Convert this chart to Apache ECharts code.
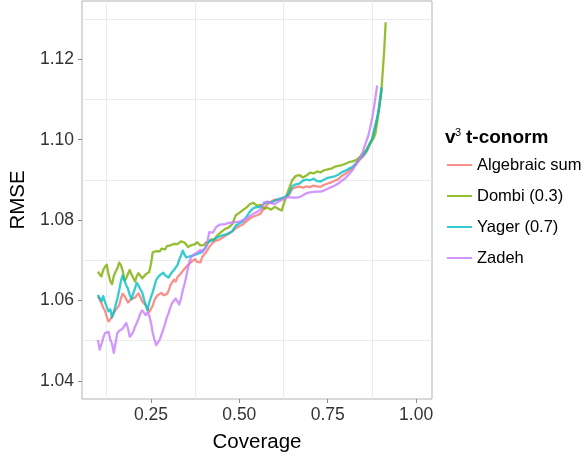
<!DOCTYPE html>
<html>
<head>
<meta charset="utf-8">
<script src="https://cdn.jsdelivr.net/npm/echarts@6/dist/echarts.min.js"></script>
<style>
  html, body { margin: 0; padding: 0; background: #ffffff; }
  #chart { width: 587px; height: 459px; }
</style>
</head>
<body>
<div id="chart"></div>
<script>
// Coverage values at which RMSE was evaluated
const coverage = [
  0.100, 0.105, 0.110, 0.115, 0.120, 0.125, 0.130, 0.135, 0.140, 0.145,
  0.150, 0.155, 0.160, 0.165, 0.170, 0.175, 0.180, 0.185, 0.190, 0.195,
  0.200, 0.205, 0.210, 0.215, 0.220, 0.225, 0.230, 0.235, 0.240, 0.245,
  0.250, 0.255, 0.260, 0.265, 0.270, 0.275, 0.280, 0.285, 0.290, 0.295,
  0.300, 0.305, 0.310, 0.315, 0.320, 0.325, 0.330, 0.335, 0.340, 0.345,
  0.350, 0.355, 0.360, 0.365, 0.370, 0.375, 0.380, 0.385, 0.390, 0.395,
  0.400, 0.405, 0.410, 0.415, 0.420, 0.425, 0.430, 0.435, 0.440, 0.445,
  0.450,
  0.46, 0.47, 0.48, 0.49, 0.50, 0.51, 0.52, 0.53, 0.54,
  0.55, 0.56, 0.57, 0.58, 0.59, 0.60, 0.61, 0.62, 0.63, 0.64,
  0.65, 0.66, 0.67, 0.68, 0.69, 0.70, 0.71, 0.72, 0.73, 0.74,
  0.75, 0.76, 0.77, 0.78, 0.79, 0.80, 0.81, 0.82, 0.83, 0.84,
  0.845, 0.85, 0.855, 0.86, 0.865, 0.87, 0.875, 0.88, 0.885, 0.89,
  0.895, 0.90, 0.903, 0.91, 0.914
];

// RMSE per t-conorm (null = no estimate at that coverage)
const algebraicSum = [
  1.0610, 1.0602, 1.0594, 1.0582, 1.0575, 1.0560, 1.0548, 1.0553, 1.0561, 1.0569,
  1.0576, 1.0579, 1.0588, 1.0605, 1.0617, 1.0612, 1.0604, 1.0595, 1.0599, 1.0604,
  1.0601, 1.0607, 1.0613, 1.0618, 1.0609, 1.0598, 1.0594, 1.0588, 1.0580, 1.0571,
  1.0574, 1.0587, 1.0601, 1.0609, 1.0614, 1.0617, 1.0619, 1.0613, 1.0611, 1.0616,
  1.0624, 1.0638, 1.0641, 1.0652, 1.0647, 1.0658, 1.0656, 1.0668, 1.0669, 1.0679,
  1.0677, 1.0688, 1.0684, 1.0697, 1.0694, 1.0703, 1.0696, 1.0699, 1.0695, 1.0708,
  1.0710, 1.0719, 1.0720, 1.0733, 1.0735, 1.0744, 1.0741, 1.0749, 1.0746, 1.0752,
  1.0755,
  1.0761, 1.0766, 1.0772, 1.0780, 1.0785, 1.0789, 1.0797, 1.0804, 1.0809,
  1.0812, 1.0816, 1.0830, 1.0840, 1.0846, 1.0851, 1.0850, 1.0853, 1.0856, 1.0862,
  1.0878, 1.0882, 1.0883, 1.0881, 1.0884, 1.0882, 1.0886, 1.0884, 1.0883, 1.0888,
  1.0891, 1.0894, 1.0898, 1.0902, 1.0910, 1.0915, 1.0922, 1.0929, 1.0938, 1.0950,
  1.0954, 1.0958, 1.0962, 1.0970, 1.0979, 1.0989, 1.0998, 1.1015, 1.1033, 1.1052,
  1.1076, 1.1105, 1.1126, null, null
];

const dombi = [
  1.0672, 1.0665, 1.0660, 1.0676, 1.0684, 1.0689, 1.0666, 1.0648, 1.0641, 1.0661,
  1.0672, 1.0680, 1.0694, 1.0688, 1.0674, 1.0650, 1.0655, 1.0666, 1.0676, 1.0665,
  1.0656, 1.0647, 1.0661, 1.0668, 1.0671, 1.0655, 1.0658, 1.0665, 1.0667, 1.0671,
  1.0690, 1.0720, 1.0716, 1.0723, 1.0719, 1.0722, 1.0729, 1.0733, 1.0727, 1.0735,
  1.0731, 1.0737, 1.0734, 1.0741, 1.0737, 1.0740, 1.0743, 1.0747, 1.0751, 1.0744,
  1.0739, 1.0733, 1.0730, 1.0738, 1.0742, 1.0740, 1.0745, 1.0741, 1.0737, 1.0740,
  1.0738, 1.0744, 1.0748, 1.0746, 1.0752, 1.0755, 1.0752, 1.0759, 1.0763, 1.0768,
  1.0772,
  1.0778, 1.0782, 1.0790, 1.0812, 1.0818, 1.0825, 1.0831, 1.0840, 1.0843,
  1.0836, 1.0838, 1.0828, 1.0831, 1.0826, 1.0833, 1.0828, 1.0824, 1.0852, 1.0877,
  1.0900, 1.0910, 1.0912, 1.0906, 1.0911, 1.0918, 1.0916, 1.0921, 1.0919, 1.0924,
  1.0926, 1.0928, 1.0933, 1.0935, 1.0937, 1.0940, 1.0944, 1.0946, 1.0949, 1.0956,
  1.0962, 1.0966, 1.0970, 1.0976, 1.0984, 1.0992, 1.0998, 1.1004, 1.1015, 1.1045,
  1.1075, 1.1115, 1.1135, 1.1225, 1.1292
];

const yager = [
  1.0614, 1.0606, 1.0598, 1.0611, 1.0596, 1.0584, 1.0573, 1.0578, 1.0558, 1.0571,
  1.0588, 1.0605, 1.0624, 1.0648, 1.0662, 1.0650, 1.0638, 1.0629, 1.0614, 1.0603,
  1.0618, 1.0631, 1.0644, 1.0637, 1.0628, 1.0621, 1.0604, 1.0590, 1.0576, 1.0594,
  1.0608, 1.0621, 1.0636, 1.0651, 1.0658, 1.0663, 1.0667, 1.0669, 1.0663, 1.0660,
  1.0657, 1.0665, 1.0671, 1.0676, 1.0680, 1.0688, 1.0701, 1.0712, 1.0724, 1.0714,
  1.0707, 1.0703, 1.0710, 1.0706, 1.0712, 1.0709, 1.0715, 1.0713, 1.0719, 1.0722,
  1.0727, 1.0732, 1.0741, 1.0749, 1.0751, 1.0749, 1.0752, 1.0756, 1.0754, 1.0760,
  1.0762,
  1.0764, 1.0767, 1.0772, 1.0786, 1.0792, 1.0796, 1.0808, 1.0821, 1.0830,
  1.0833, 1.0832, 1.0841, 1.0845, 1.0843, 1.0848, 1.0852, 1.0855, 1.0858, 1.0866,
  1.0885, 1.0889, 1.0891, 1.0898, 1.0901, 1.0899, 1.0903, 1.0897, 1.0896, 1.0901,
  1.0905, 1.0907, 1.0909, 1.0913, 1.0919, 1.0923, 1.0928, 1.0932, 1.0941, 1.0953,
  1.0957, 1.0961, 1.0965, 1.0973, 1.0982, 1.0992, 1.1001, 1.1019, 1.1037, 1.1055,
  1.1080, 1.1110, 1.1130, null, null
];

const zadeh = [
  1.0502, 1.0478, 1.0490, 1.0507, 1.0519, 1.0516, 1.0522, 1.0503, 1.0492, 1.0470,
  1.0495, 1.0519, 1.0524, 1.0521, 1.0530, 1.0537, 1.0544, 1.0531, 1.0510, 1.0515,
  1.0522, 1.0535, 1.0544, 1.0555, 1.0568, 1.0575, 1.0570, 1.0564, 1.0570, 1.0563,
  1.0545, 1.0520, 1.0503, 1.0489, 1.0490, 1.0503, 1.0516, 1.0528, 1.0542, 1.0558,
  1.0569, 1.0583, 1.0594, 1.0598, 1.0605, 1.0609, 1.0590, 1.0605, 1.0625, 1.0641,
  1.0660, 1.0682, 1.0700, 1.0709, 1.0714, 1.0716, 1.0719, 1.0723, 1.0726, 1.0719,
  1.0722, 1.0733, 1.0748, 1.0770, 1.0774, 1.0769, 1.0776, 1.0783, 1.0787, 1.0789,
  1.0791,
  1.0790, 1.0793, 1.0794, 1.0795, 1.0796, 1.0800, 1.0803, 1.0810, 1.0816,
  1.0820, 1.0826, 1.0844, 1.0846, 1.0842, 1.0840, 1.0846, 1.0850, 1.0855, 1.0857,
  1.0856, 1.0856, 1.0857, 1.0862, 1.0867, 1.0869, 1.0870, 1.0871, 1.0871, 1.0874,
  1.0878, 1.0882, 1.0886, 1.0891, 1.0898, 1.0904, 1.0914, 1.0924, 1.0939, 1.0952,
  1.0960, 1.0972, 1.0985, 1.0998, 1.1010, 1.1030, 1.1050, 1.1075, 1.1105, 1.1135,
  null, null, null, null, null
];

const seriesNames = ['Algebraic sum', 'Dombi (0.3)', 'Yager (0.7)', 'Zadeh'];
const seriesValues = [algebraicSum, dombi, yager, zadeh];

// Axis breaks: labelled ticks and the (minor) grid lines between them
const xTicks = [0.25, 0.50, 0.75, 1.00];
const xGridLines = [0.125, 0.375, 0.625, 0.875];
const yTicks = [1.04, 1.06, 1.08, 1.10, 1.12];
const yGridLines = [1.05, 1.07, 1.09, 1.11, 1.13];

const palette = ['#F8766D', '#7CAE00', '#00BFC4', '#C77CFF'];
const FONT = '"Liberation Sans", Arial, Helvetica, sans-serif';

function toPoints(values) {
  const pts = [];
  coverage.forEach((c, i) => {
    if (values[i] !== null && values[i] !== undefined) pts.push([c, values[i]]);
  });
  return pts;
}

const chart = echarts.init(document.getElementById('chart'), null, { renderer: 'canvas' });

const gridLineStyle = { color: '#ebebeb', width: 1 };

chart.setOption({
  animation: false,
  backgroundColor: '#ffffff',
  textStyle: { fontFamily: FONT },
  grid: {
    left: 82, right: 155, top: 1, bottom: 60,
    containLabel: false,
    outerBoundsMode: 'none',
    show: true,
    borderColor: '#b3b3b3',
    borderWidth: 1,
    backgroundColor: 'transparent'
  },
  xAxis: [
    {
      type: 'value', min: 0.055, max: 1.045, position: 'bottom',
      axisLine: { show: false },
      axisTick: { show: true, customValues: xTicks, length: 4, lineStyle: { color: '#8c8c8c' } },
      axisLabel: {
        customValues: xTicks, formatter: v => v.toFixed(2),
        fontSize: 17.5, color: '#333333', margin: 7, fontFamily: FONT
      },
      splitLine: { show: false },
      name: 'Coverage', nameLocation: 'middle', nameGap: 33,
      nameTextStyle: { fontSize: 20.5, color: '#000000', fontFamily: FONT }
    },
    {
      type: 'value', min: 0.055, max: 1.045, position: 'top',
      axisLine: { show: false },
      axisTick: { show: false, customValues: xGridLines },
      axisLabel: { show: false, customValues: xGridLines },
      splitLine: { show: true, lineStyle: gridLineStyle }
    }
  ],
  yAxis: [
    {
      type: 'value', min: 1.0355, max: 1.1345, position: 'left',
      axisLine: { show: false },
      axisTick: { show: true, customValues: yTicks, length: 4, lineStyle: { color: '#8c8c8c' } },
      axisLabel: {
        customValues: yTicks, formatter: v => v.toFixed(2),
        fontSize: 17.5, color: '#333333', margin: 8, fontFamily: FONT
      },
      splitLine: { show: false },
      name: 'RMSE', nameLocation: 'middle', nameGap: 49, nameRotate: 90,
      nameTextStyle: { fontSize: 20.5, color: '#000000', fontFamily: FONT }
    },
    {
      type: 'value', min: 1.0355, max: 1.1345, position: 'right',
      axisLine: { show: false },
      axisTick: { show: false, customValues: yGridLines },
      axisLabel: { show: false, customValues: yGridLines },
      splitLine: { show: true, lineStyle: gridLineStyle }
    }
  ],
  legend: {
    orient: 'vertical',
    left: 447, top: 156,
    padding: 0,
    itemWidth: 25, itemHeight: 2, itemGap: 13,
    icon: 'rect',
    selectedMode: false,
    data: seriesNames,
    textStyle: { fontSize: 16.5, color: '#000000', lineHeight: 18, fontFamily: FONT }
  },
  graphic: [
    {
      type: 'text', left: 445, top: 128,
      style: { text: 'v', font: 'bold 19px ' + FONT, fill: '#000000' }
    },
    {
      type: 'text', left: 455, top: 127,
      style: { text: '3', font: '11px ' + FONT, fill: '#000000' }
    },
    {
      type: 'text', left: 466, top: 128,
      style: { text: 't-conorm', font: 'bold 19px ' + FONT, fill: '#000000' }
    }
  ],
  series: seriesNames.map((name, k) => ({
    name: name,
    type: 'line',
    xAxisIndex: 0,
    yAxisIndex: 0,
    data: toPoints(seriesValues[k]),
    showSymbol: false,
    symbol: 'none',
    color: palette[k],
    itemStyle: { color: palette[k], opacity: 0.8 },
    lineStyle: { width: 2.3, color: palette[k], opacity: 0.8, join: 'round' },
    emphasis: { disabled: true },
    z: 2 + k
  }))
});
</script>
</body>
</html>
